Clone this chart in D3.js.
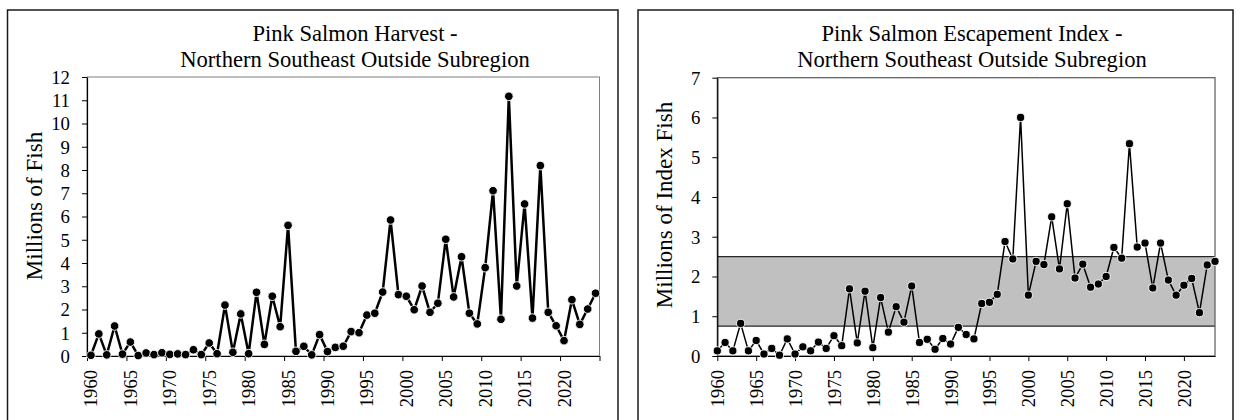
<!DOCTYPE html>
<html>
<head>
<meta charset="utf-8">
<script src="https://cdn.jsdelivr.net/npm/d3@7"></script>
<style>
  html, body { margin: 0; padding: 0; background: #fff; }
  svg { display: block; }
  text { font-family: "Liberation Serif", "Times New Roman", serif; fill: #000; }
</style>
</head>
<body>
<svg id="chart" width="1241" height="420"></svg>
<script>
// ---- Data ----
const years = d3.range(1960, 2025);
const harvest = [
  0.03, 0.95, 0.05, 1.29, 0.08, 0.60, 0.02, 0.13, 0.06, 0.14,
  0.07, 0.09, 0.06, 0.27, 0.06, 0.56, 0.10, 2.19, 0.16, 1.81,
  0.10, 2.74, 0.50, 2.57, 1.26, 5.62, 0.20, 0.42, 0.05, 0.92,
  0.19, 0.37, 0.42, 1.05, 1.00, 1.76, 1.84, 2.75, 5.85, 2.64,
  2.57, 1.99, 3.01, 1.88, 2.27, 5.02, 2.54, 4.27, 1.84, 1.38,
  3.80, 7.11, 1.58, 11.17, 3.01, 6.54, 1.63, 8.19, 1.88, 1.30,
  0.66, 2.42, 1.36, 2.02, 2.70
];
const escapement = [
  0.13, 0.34, 0.13, 0.82, 0.13, 0.39, 0.05, 0.19, 0.02, 0.43,
  0.05, 0.23, 0.13, 0.35, 0.19, 0.51, 0.26, 1.69, 0.33, 1.63,
  0.21, 1.47, 0.60, 1.24, 0.85, 1.76, 0.34, 0.42, 0.17, 0.44,
  0.30, 0.72, 0.54, 0.43, 1.32, 1.35, 1.55, 2.88, 2.44, 6.00,
  1.53, 2.38, 2.30, 3.50, 2.19, 3.83, 1.96, 2.31, 1.73, 1.81,
  2.00, 2.73, 2.46, 5.34, 2.74, 2.84, 1.71, 2.84, 1.91, 1.53,
  1.78, 1.95, 1.09, 2.29, 2.38
];
const goalRange = [0.75, 2.5];
const xTickYears = d3.range(1960, 2021, 5);
const harvestYTicks = d3.range(0, 13, 1);
const escYTicks = d3.range(0, 8, 1);
const titlesLeft = ["Pink Salmon Harvest -", "Northern Southeast Outside Subregion"];
const titlesRight = ["Pink Salmon Escapement Index -", "Northern Southeast Outside Subregion"];
const yLabelLeft = "Millions of Fish";
const yLabelRight = "Millions of Index Fish";

const svg = d3.select("#chart");

function panelFrame(x0, w, titles, cx) {
  svg.append("rect").attr("x", x0).attr("y", 10).attr("width", w).attr("height", 430)
    .attr("fill", "none").attr("stroke", "#1a1a1a").attr("stroke-width", 1.5);
  const t = svg.append("text").attr("text-anchor", "middle").style("font-size", "22.6px");
  t.append("tspan").attr("x", cx).attr("y", 41).text(titles[0]);
  t.append("tspan").attr("x", cx).attr("y", 67).text(titles[1]);
}

function styleYAxis(g) {
  g.selectAll("path.domain").attr("stroke", "#000").attr("stroke-width", 1.2);
  g.selectAll(".tick line").attr("stroke", "#000");
  g.selectAll(".tick text").style("font-size", "18.8px").attr("fill", "#000").attr("dy", "0.34em");
}
function styleXLabels(g) {
  g.selectAll(".tick text")
    .style("font-size", "18.6px")
    .attr("fill", "#000")
    .attr("transform", "rotate(-90)")
    .attr("x", -14).attr("y", 0).attr("dy", "0.35em")
    .attr("text-anchor", "end");
}

// ---------------- Left panel: Harvest ----------------
panelFrame(7.5, 610.5, titlesLeft, 355);
{
  const L = 87, R = 599.5, T = 77, B = 356;
  const xb = d3.scaleBand().domain(years).range([L, R]).padding(0);
  const xl = d3.scaleLinear().domain([1960, 2025]).range([L, R]);
  const y = d3.scaleLinear().domain([0, 12]).range([B, T]);

  svg.append("rect").attr("x", L).attr("y", T).attr("width", R - L).attr("height", B - T)
    .attr("fill", "none").attr("stroke", "#7f7f7f").attr("stroke-width", 1);

  const ya = svg.append("g").attr("transform", `translate(${L},0)`)
    .call(d3.axisLeft(y).tickValues(harvestYTicks).tickFormat(d3.format("d")).tickSize(5).tickPadding(12).tickSizeOuter(0));
  styleYAxis(ya);

  // tick marks at category boundaries
  const xt = svg.append("g").attr("transform", `translate(0,${B})`)
    .call(d3.axisBottom(xl).tickValues(d3.range(1960, 2026, 5)).tickFormat("").tickSize(5).tickSizeOuter(0));
  xt.selectAll("path.domain").attr("stroke", "#000").attr("stroke-width", 1.2);
  xt.selectAll(".tick line").attr("stroke", "#000");
  // labels at category centers
  const xlab = svg.append("g").attr("transform", `translate(0,${B})`)
    .call(d3.axisBottom(xb).tickValues(xTickYears).tickSize(0));
  xlab.select("path.domain").remove();
  styleXLabels(xlab);

  svg.append("text").attr("transform", `translate(${L - 45},${206}) rotate(-90)`)
    .attr("text-anchor", "middle").style("font-size", "23px").text(yLabelLeft);

  const cx = d => xb(d) + xb.bandwidth() / 2;
  const data = years.map((yr, i) => ({ yr, v: harvest[i] }));
  svg.append("path").datum(data)
    .attr("fill", "none").attr("stroke", "#000").attr("stroke-width", 2.5).attr("stroke-linejoin", "round")
    .attr("d", d3.line().x(d => cx(d.yr)).y(d => y(d.v)));
  svg.append("g").selectAll("circle").data(data).join("circle")
    .attr("cx", d => cx(d.yr)).attr("cy", d => y(d.v)).attr("r", 4.3)
    .attr("fill", "#000").attr("stroke", "#fff").attr("stroke-width", 0.9);
}

// ---------------- Right panel: Escapement ----------------
panelFrame(638, 595, titlesRight, 972);
{
  const L = 717.3, R = 1215, T = 77.7, B = 356;
  const x = d3.scaleLinear().domain([1960, 2024]).range([L, R]);
  const y = d3.scaleLinear().domain([0, 7]).range([B, T]);

  // goal band
  svg.append("rect").attr("x", L).attr("y", y(goalRange[1])).attr("width", R - L)
    .attr("height", y(goalRange[0]) - y(goalRange[1])).attr("fill", "#c0c0c0");
  goalRange.forEach(g => {
    svg.append("line").attr("x1", L).attr("x2", R).attr("y1", y(g)).attr("y2", y(g))
      .attr("stroke", "#262626").attr("stroke-width", 1.2);
  });

  svg.append("rect").attr("x", L).attr("y", T).attr("width", R - L).attr("height", B - T)
    .attr("fill", "none").attr("stroke", "#595959").attr("stroke-width", 1.2);

  const ya = svg.append("g").attr("transform", `translate(${L},0)`)
    .call(d3.axisLeft(y).tickValues(escYTicks).tickFormat(d3.format("d")).tickSize(5).tickPadding(12).tickSizeOuter(0));
  styleYAxis(ya);

  const xa = svg.append("g").attr("transform", `translate(0,${B})`)
    .call(d3.axisBottom(x).tickValues(xTickYears).tickFormat(d3.format("d")).tickSize(5).tickSizeOuter(0));
  xa.selectAll("path.domain").attr("stroke", "#000").attr("stroke-width", 1.2);
  xa.selectAll(".tick line").attr("stroke", "#000");
  styleXLabels(xa);

  svg.append("text").attr("transform", `translate(${L - 45},${205}) rotate(-90)`)
    .attr("text-anchor", "middle").style("font-size", "23px").text(yLabelRight);

  const data = years.map((yr, i) => ({ yr, v: escapement[i] }));
  svg.append("path").datum(data)
    .attr("fill", "none").attr("stroke", "#000").attr("stroke-width", 1.5).attr("stroke-linejoin", "round")
    .attr("d", d3.line().x(d => x(d.yr)).y(d => y(d.v)));
  svg.append("g").selectAll("circle").data(data).join("circle")
    .attr("cx", d => x(d.yr)).attr("cy", d => y(d.v)).attr("r", 4.1)
    .attr("fill", "#000").attr("stroke", "#fff").attr("stroke-width", 0.9);
}
</script>
</body>
</html>
